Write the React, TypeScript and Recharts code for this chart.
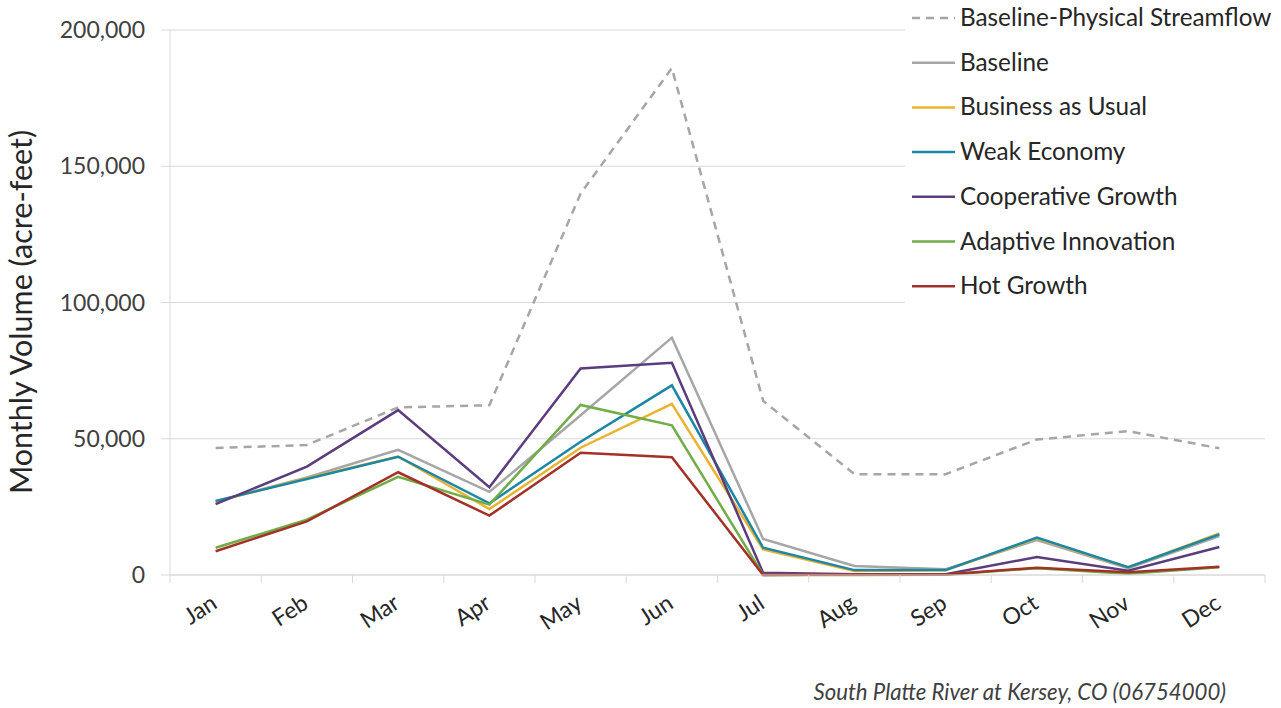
import React from 'react';
import {
  LineChart,
  Line,
  XAxis,
  YAxis,
  CartesianGrid,
  Legend,
} from 'recharts';

const months = ['Jan', 'Feb', 'Mar', 'Apr', 'May', 'Jun', 'Jul', 'Aug', 'Sep', 'Oct', 'Nov', 'Dec'];

const physicalStreamflow = [46600, 47700, 61500, 62300, 140000, 186000, 63900, 37000, 37000, 49700, 52800, 46500];
const baseline = [27000, 35800, 45900, 30500, 58600, 87100, 13200, 3300, 2100, 12800, 2500, 14300];
const businessAsUsual = [27000, 35500, 43500, 24200, 46700, 62800, 9400, 1500, 1700, 13500, 2800, 15300];
const weakEconomy = [27200, 35200, 43400, 26300, 48900, 69600, 10000, 1800, 1800, 13700, 2900, 14900];
const cooperativeGrowth = [26000, 39800, 60500, 32200, 75800, 77900, 800, 300, 300, 6600, 1600, 10300];
const adaptiveInnovation = [10000, 20300, 36000, 25800, 62400, 54900, 0, 0, 100, 2500, 500, 2800];
const hotGrowth = [8700, 19700, 37700, 21800, 44900, 43200, 0, 200, 200, 2700, 1000, 3000];

const yTicks = [0, 50000, 100000, 150000, 200000];

const series = [
  { key: 'physical', name: 'Baseline-Physical Streamflow', values: physicalStreamflow, color: '#A6A6A6', dash: '8 6' },
  { key: 'baseline', name: 'Baseline', values: baseline, color: '#A6A6A6' },
  { key: 'bau', name: 'Business as Usual', values: businessAsUsual, color: '#E9B330' },
  { key: 'weak', name: 'Weak Economy', values: weakEconomy, color: '#1C87A5' },
  { key: 'coop', name: 'Cooperative Growth', values: cooperativeGrowth, color: '#5B3C7D' },
  { key: 'adaptive', name: 'Adaptive Innovation', values: adaptiveInnovation, color: '#70AD47' },
  { key: 'hot', name: 'Hot Growth', values: hotGrowth, color: '#A33128' },
];

const data = months.map((m, i) => {
  const row: Record<string, string | number> = { month: m };
  series.forEach((s) => {
    row[s.key] = s.values[i];
  });
  return row;
});

const FONT = 'Lato, "Open Sans", sans-serif';
const HALF_BAND = 45.625;

const MonthTick = (props: any) => {
  const { x, y, payload, index } = props;
  const last = index === months.length - 1;
  return (
    <g>
      <line x1={x - HALF_BAND} y1={y} x2={x - HALF_BAND} y2={y + 8} stroke="#D9D9D9" />
      {last && <line x1={x + HALF_BAND} y1={y} x2={x + HALF_BAND} y2={y + 8} stroke="#D9D9D9" />}
      <text
        x={x + 3}
        y={y + 32}
        textAnchor="end"
        transform={`rotate(-33, ${x + 3}, ${y + 32})`}
        fill="#262626"
        fontSize={23}
        fontFamily={FONT}
      >
        {payload.value}
      </text>
    </g>
  );
};

const LegendBox = () => (
  <svg width={376} height={305} style={{ background: '#fff', display: 'block' }}>
    {series.map((s, i) => {
      const cy = 18 + i * 44.7;
      return (
        <g key={s.key}>
          <line
            x1={7}
            x2={50}
            y1={cy}
            y2={cy}
            stroke={s.color}
            strokeWidth={2.5}
            strokeDasharray={s.dash}
          />
          <text x={55} y={cy + 8} fontSize={24.3} fill="#262626" fontFamily={FONT}>
            {s.name}
          </text>
        </g>
      );
    })}
  </svg>
);

const App = () => {
  return (
    <div style={{ position: 'absolute', left: 0, top: 0, width: 1281, height: 708, background: '#fff' }}>
      <LineChart width={1281} height={708} data={data} margin={{ top: 30, right: 16, bottom: 0, left: 0 }}>
        <CartesianGrid vertical={false} stroke="#D9D9D9" />
        <XAxis
          dataKey="month"
          height={133}
          padding={{ left: HALF_BAND, right: HALF_BAND }}
          axisLine={{ stroke: '#D9D9D9' }}
          tickLine={false}
          tickSize={0}
          tickMargin={0}
          interval={0}
          tick={<MonthTick />}
          label={{
            content: () => (
              <text
                x={1226}
                y={700}
                textAnchor="end"
                fontStyle="italic"
                fontSize={22.2}
                fill="#404040"
                fontFamily={FONT}
              >
                South Platte River at Kersey, CO (06754000)
              </text>
            ),
          }}
        />
        <YAxis
          width={170}
          domain={[0, 200000]}
          ticks={yTicks}
          axisLine={{ stroke: '#D9D9D9' }}
          tickLine={{ stroke: '#D9D9D9' }}
          tickSize={9}
          tickMargin={16}
          tickFormatter={(v: number) => v.toLocaleString('en-US')}
          tick={{ fill: '#404040', fontSize: 23, fontFamily: FONT }}
          label={{
            content: () => (
              <text
                x={0}
                y={0}
                transform="translate(32, 312) rotate(-90)"
                textAnchor="middle"
                fontSize={30.5}
                fill="#262626"
                fontFamily={FONT}
              >
                Monthly Volume (acre-feet)
              </text>
            ),
          }}
        />
        <Legend
          layout="horizontal"
          verticalAlign="middle"
          align="center"
          content={<LegendBox />}
          wrapperStyle={{ position: 'absolute', left: 905, top: 0, width: 376, height: 305 }}
        />
        {series.map((s) => (
          <Line
            key={s.key}
            dataKey={s.key}
            name={s.name}
            stroke={s.color}
            strokeWidth={2.5}
            strokeDasharray={s.dash}
            dot={false}
            activeDot={false}
            isAnimationActive={false}
          />
        ))}
      </LineChart>
    </div>
  );
};

export default App;
